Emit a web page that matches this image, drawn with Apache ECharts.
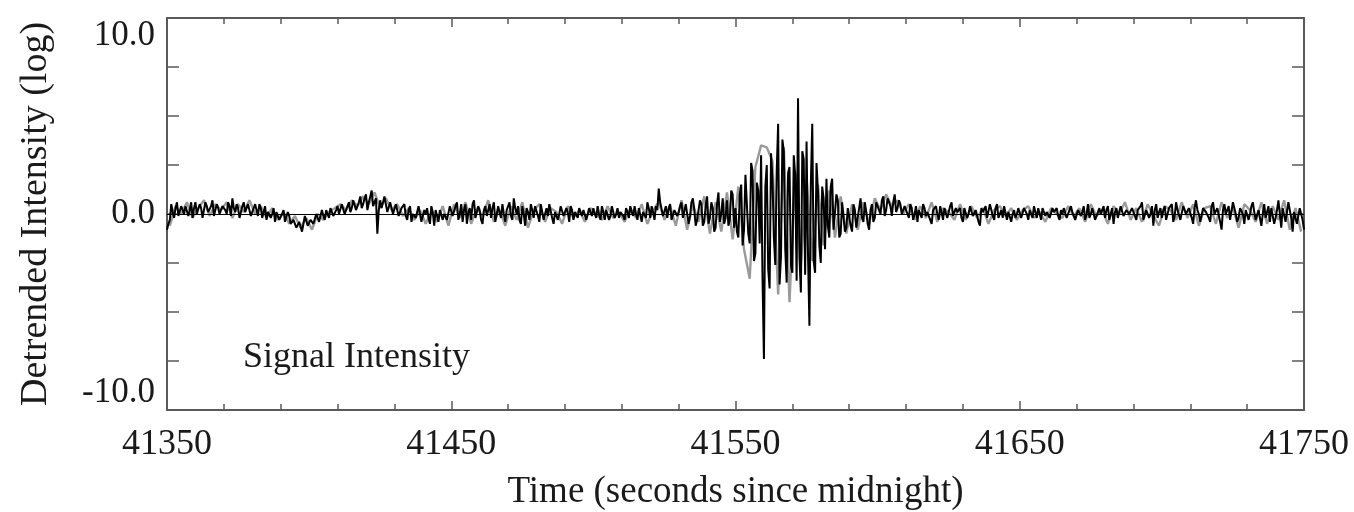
<!DOCTYPE html>
<html>
<head>
<meta charset="utf-8">
<script src="https://cdn.jsdelivr.net/npm/echarts@6/dist/echarts.min.js"></script>
<style>
html,body{margin:0;padding:0;background:#fff;}
#chart{width:1354px;height:512px;}
</style>
</head>
<body>
<div id="chart"></div>
<script>
// ---- data ----
const X_MIN = 41350, X_MAX = 41750, X_INTERVAL = 100;
const Y_MIN = -10, Y_MAX = 10, Y_INTERVAL = 2.5;
const yTickLabels = { '10': '10.0', '0': '0.0', '-10': '-10.0' };

// black trace: samples on whole seconds from 41350
const BLACK_START = 41350, BLACK_STEP = 1;
const blackValues = [
 -0.8,-0.3,0.1,0.3,-0.1,0.4,0.0,0.5,0.2,-0.2,0.6,0.1,0.3,-0.3,0.4,0.2,0.7,-0.1,0.3,0.1,
 0.5,0.0,0.4,0.8,0.1,0.3,-0.2,0.6,0.2,0.4,0.0,0.5,-0.1,0.3,0.1,-0.3,0.2,0.0,-0.4,0.1,
 -0.2,0.2,-0.5,-0.1,-0.6,-0.2,-0.8,-0.3,-0.5,0.0,-0.7,-0.2,-0.4,0.1,-0.3,-0.1,0.2,-0.2,0.3,0.0,
 0.4,0.1,0.5,0.2,0.6,0.3,0.8,0.4,0.9,0.5,1.0,0.6,1.2,0.3,-1.0,0.7,0.4,0.8,0.2,0.5,
 0.1,0.4,-0.2,0.3,-0.1,0.2,-0.4,0.1,-0.3,0.3,-0.5,0.0,-0.2,0.4,-0.6,-0.1,0.2,-0.3,0.1,-0.2,
 0.3,-0.2,0.6,0.0,-0.4,0.5,0.1,-0.3,0.7,-0.1,0.2,-0.5,0.4,0.0,-0.2,0.6,-0.3,0.1,0.5,-0.4,
 0.2,-0.1,0.8,0.0,-0.3,0.4,-0.6,0.1,0.5,-0.2,0.3,-0.4,0.6,0.0,-0.1,0.4,-0.5,0.2,0.0,0.3,
 -0.2,0.1,0.4,-0.3,0.0,0.3,-0.1,0.2,-0.4,0.1,0.3,-0.2,0.0,0.4,-0.3,0.2,-0.1,0.3,0.0,-0.2,
 0.2,-0.3,0.1,0.4,-0.1,0.0,0.3,-0.4,0.2,0.6,-0.2,0.1,0.4,1.3,0.7,0.0,-0.2,0.5,-0.4,0.3,
 0.1,0.6,-0.3,0.4,-0.1,0.8,-0.6,0.2,0.5,-0.4,0.9,-0.2,0.3,-0.7,1.1,0.0,-0.5,0.7,-0.3,1.0,
 0.3,-1.2,1.5,-0.8,1.9,-1.5,2.2,-2.0,1.2,3.0,-7.4,2.5,-3.8,1.8,-2.6,4.6,-2.2,3.2,-3.5,2.4,
 -3.0,2.0,5.9,-4.0,2.8,3.7,-5.7,4.6,-3.0,1.2,-2.5,0.8,1.8,-1.2,1.8,-0.9,0.7,-1.0,0.5,-0.7,
 0.4,-0.9,0.2,-0.6,0.8,-0.4,0.1,-0.8,0.5,-0.2,0.7,0.0,0.9,0.2,0.6,-0.1,1.0,0.3,0.5,0.1,
 0.4,-0.2,0.3,0.0,-0.4,0.2,0.5,-0.1,0.1,-0.5,0.3,0.0,0.4,-0.3,0.2,-0.1,0.6,-0.2,0.1,0.3,
 -0.4,0.2,0.0,0.5,-0.2,0.3,-0.6,0.1,0.4,-0.1,0.2,-0.3,0.5,0.0,-0.2,0.3,0.1,-0.4,0.2,0.0,
 0.3,-0.1,0.2,-0.3,0.1,0.4,-0.2,0.0,0.3,-0.1,0.2,-0.2,0.1,0.3,-0.3,0.0,0.2,-0.1,0.4,0.0,
 -0.2,0.3,0.1,-0.3,0.5,0.0,0.2,-0.4,0.3,0.1,-0.2,0.4,0.0,-0.5,0.3,0.1,0.5,-0.2,0.2,-0.1,
 0.4,-0.3,0.1,0.6,-0.2,0.3,0.0,-0.6,0.5,0.1,-0.2,0.4,0.0,0.3,-0.4,0.6,0.1,-0.2,0.5,-0.1,
 0.3,-0.5,0.7,0.0,-0.3,0.4,0.2,-0.4,0.6,-0.1,0.3,-0.8,0.5,0.1,-0.3,0.6,0.0,-0.2,0.4,-0.5,
 0.3,0.0,0.6,-0.3,0.2,-0.6,0.5,0.1,-0.4,0.4,-0.2,0.7,-0.7,0.3,-0.4,0.5,-0.9,0.2,-0.6,0.4,
 -0.8
];
// black trace: samples on the half seconds from 41350.5
const BLACK_MID_START = 41350.5, BLACK_MID_STEP = 1;
const blackMidValues = [
 -0.5,0.5,-0.2,0.6,0.0,0.2,0.4,-0.1,0.6,0.3,0.0,0.5,-0.2,0.6,0.1,0.4,-0.1,0.5,0.0,0.4,
 0.2,0.6,-0.1,0.3,0.5,-0.2,0.4,0.1,0.5,-0.1,0.3,0.2,0.5,-0.2,0.4,0.1,-0.2,0.3,0.1,-0.3,
 0.0,-0.4,0.1,-0.5,-0.3,-0.7,-0.4,-0.9,-0.1,-0.6,-0.3,-0.5,0.0,-0.4,0.2,-0.3,0.0,0.3,-0.1,0.2,
 0.0,0.5,0.0,0.4,0.1,0.7,0.2,0.6,0.3,0.8,0.2,0.9,0.4,0.8,0.2,0.3,0.9,0.1,0.6,0.0,
 0.5,-0.1,0.3,0.5,-0.3,0.4,0.0,-0.2,0.4,-0.4,0.2,0.3,-0.5,0.1,0.2,-0.4,0.3,0.0,-0.3,0.4,
 -0.1,0.4,-0.3,0.5,0.2,-0.5,0.3,0.5,-0.2,0.4,-0.3,0.2,-0.1,0.5,0.3,-0.4,0.4,-0.2,0.0,0.2,
 0.6,-0.3,0.3,0.4,-0.5,0.0,0.3,-0.3,0.2,0.4,-0.1,0.5,-0.3,0.3,0.5,-0.2,0.1,-0.3,0.4,-0.1,
 0.3,-0.4,0.2,0.1,-0.2,0.4,0.2,-0.3,0.3,-0.1,0.0,0.4,-0.3,0.1,0.2,-0.3,0.4,-0.2,0.3,0.1,
 -0.1,0.3,-0.2,0.1,0.4,-0.3,0.2,0.1,-0.2,0.3,0.4,-0.3,0.2,0.6,-0.1,0.4,0.3,-0.3,0.2,-0.1,
 0.4,-0.2,0.5,-0.5,0.6,0.2,-0.3,0.7,-0.6,0.4,-0.5,0.6,-0.9,0.5,-0.4,0.8,-0.2,-0.6,1.2,-0.7,
 -0.9,1.0,-1.6,2.0,-1.0,2.6,-2.4,1.6,-1.5,-3.2,1.4,-2.8,3.1,-1.2,2.2,-3.6,3.8,-1.8,2.1,-2.6,
 3.0,-3.4,-2.2,3.2,-3.1,-2.0,1.5,-2.4,2.6,-1.6,1.4,-1.8,-0.6,1.4,-0.8,1.0,-1.2,0.6,-0.9,0.3,
 -0.6,0.5,-0.7,0.3,-0.2,0.6,-0.5,0.2,-0.4,0.6,0.2,0.7,-0.1,0.8,0.4,0.6,0.1,0.7,0.0,0.4,
 0.0,0.5,-0.3,0.4,0.2,-0.2,0.3,0.1,-0.3,0.2,0.4,-0.3,0.1,0.3,-0.2,0.4,-0.1,0.3,0.0,-0.2,
 0.3,-0.2,0.4,-0.1,0.2,-0.4,0.3,0.0,-0.2,0.5,-0.1,0.3,-0.2,0.2,0.4,-0.3,0.2,0.0,-0.2,0.3,
 -0.2,0.3,0.0,0.2,-0.2,0.1,0.3,-0.3,0.2,0.1,-0.2,0.3,0.0,-0.1,0.2,0.3,-0.2,0.2,0.1,-0.3,
 0.2,-0.1,0.4,0.0,-0.2,0.3,-0.3,0.1,0.0,0.4,0.2,-0.3,0.3,0.1,-0.2,0.4,-0.1,0.2,0.0,0.3,
 -0.1,0.2,0.4,-0.3,0.2,-0.2,0.4,0.2,-0.2,0.3,0.2,-0.3,0.3,0.5,-0.1,0.2,-0.3,0.4,0.0,0.3,
 -0.2,0.3,0.2,-0.4,0.3,0.1,-0.2,0.4,0.0,0.3,-0.4,0.2,0.0,0.4,-0.2,0.3,-0.4,0.3,0.0,0.2,
 -0.3,0.4,0.1,-0.4,0.3,0.0,-0.2,0.4,0.3,-0.5,0.2,0.0,0.3,-0.4,0.6,-0.2,0.1,-0.5,0.3,-0.3
];

// grey trace: one sample every two seconds from 41351
const GRAY_START = 41351, GRAY_STEP = 2;
const grayValues = [
 -0.6,0.4,0.0,0.6,-0.2,0.3,0.7,-0.1,0.5,0.2,0.6,-0.2,0.5,0.1,0.7,0.0,0.4,-0.2,0.3,-0.3,
 0.1,-0.5,-0.1,-0.7,-0.2,-0.8,0.0,-0.3,0.1,0.3,0.5,0.2,0.7,0.4,0.9,0.5,1.1,0.3,0.8,0.2,
 0.5,-0.1,0.3,-0.3,0.2,-0.5,0.1,-0.4,0.4,-0.6,0.5,-0.2,0.6,-0.5,0.3,-0.1,0.7,-0.4,0.2,-0.6,
 0.4,-0.3,0.6,-0.7,0.2,0.5,-0.4,0.3,0.1,-0.5,0.4,-0.2,0.2,-0.4,0.3,0.0,-0.3,0.4,-0.2,0.1,
 -0.4,0.3,-0.2,0.5,-0.5,0.2,0.6,-0.3,0.4,-0.6,0.7,-0.8,0.5,-0.4,0.9,-1.0,0.6,-0.9,1.1,-1.3,
 1.4,-1.8,-3.3,2.4,3.5,3.4,2.7,-4.1,3.4,-4.5,2.2,-2.6,1.8,-2.4,1.5,-1.6,1.2,-1.2,0.9,-1.0,
 0.5,-0.8,0.6,-0.5,0.8,0.2,1.0,0.4,0.7,0.0,0.5,-0.3,0.4,-0.2,0.6,-0.4,0.3,0.1,-0.3,0.5,
 -0.3,0.4,-0.2,0.3,-0.5,0.2,0.4,-0.1,0.3,-0.3,0.2,0.4,-0.2,0.1,-0.4,0.3,0.0,-0.2,0.4,-0.1,
 0.3,-0.4,0.5,-0.1,0.2,-0.5,0.4,0.0,0.6,-0.3,0.3,-0.4,0.5,-0.1,-0.6,0.4,0.2,-0.3,0.6,-0.2,
 0.5,-0.6,0.3,0.4,-0.5,0.6,-0.2,0.3,-0.7,0.5,0.2,-0.4,0.6,-0.5,0.4,-0.3,0.7,-0.8,0.3,-0.9
];

const X_TITLE = 'Time (seconds since midnight)';
const Y_TITLE = 'Detrended Intensity (log)';
const PANEL_LABEL = 'Signal Intensity';

// ---- build ----
const blackData = [];
blackValues.forEach((v, i) => {
  blackData.push([BLACK_START + i * BLACK_STEP, v]);
  if (i < blackMidValues.length) blackData.push([BLACK_MID_START + i * BLACK_MID_STEP, blackMidValues[i]]);
});
const grayData = grayValues.map((v, i) => [GRAY_START + i * GRAY_STEP, v]);

const FONT = '"Liberation Serif", "DejaVu Serif", serif';
const AXIS_COLOR = '#5a5a5a';
const TEXT_COLOR = '#1a1a1a';

const chart = echarts.init(document.getElementById('chart'), null, { renderer: 'canvas' });

const baseX = {
  type: 'value', min: X_MIN, max: X_MAX, interval: X_INTERVAL,
  axisLine: { show: true, onZero: false, lineStyle: { color: AXIS_COLOR, width: 2 } },
  axisTick: { show: true, inside: true, length: 9, lineStyle: { color: AXIS_COLOR, width: 1.5 } },
  minorTick: { show: true, splitNumber: 5, length: 6, lineStyle: { color: AXIS_COLOR, width: 1.5 } },
  splitLine: { show: false }, minorSplitLine: { show: false }
};
const baseY = {
  type: 'value', min: Y_MIN, max: Y_MAX, interval: Y_INTERVAL,
  axisLine: { show: true, onZero: false, lineStyle: { color: AXIS_COLOR, width: 2 } },
  axisTick: { show: true, inside: true, length: 12, lineStyle: { color: AXIS_COLOR, width: 1.5 } },
  splitLine: { show: false }
};

chart.setOption({
  animation: false,
  backgroundColor: '#ffffff',
  grid: { left: 167, right: 50, top: 18, bottom: 102, containLabel: false, outerBoundsMode: 'none' },
  xAxis: [
    Object.assign({}, baseX, {
      position: 'bottom',
      name: X_TITLE, nameLocation: 'middle', nameGap: 64,
      nameTextStyle: { fontFamily: FONT, fontSize: 37, color: TEXT_COLOR },
      axisLabel: { show: true, margin: 17, fontFamily: FONT, fontSize: 36, color: TEXT_COLOR,
        formatter: v => String(v) }
    }),
    Object.assign({}, baseX, { position: 'top', axisLabel: { show: false } })
  ],
  yAxis: [
    Object.assign({}, baseY, {
      position: 'left',
      name: Y_TITLE, nameLocation: 'middle', nameGap: 112,
      nameTextStyle: { fontFamily: FONT, fontSize: 38, color: TEXT_COLOR },
      axisLabel: {
        show: true, margin: 12, fontFamily: FONT, fontSize: 35, color: TEXT_COLOR,
        verticalAlignMaxLabel: 'top', verticalAlignMinLabel: 'bottom',
        formatter: v => (yTickLabels[String(v)] !== undefined ? yTickLabels[String(v)] : '')
      }
    }),
    Object.assign({}, baseY, { position: 'right', axisLabel: { show: false } })
  ],
  series: [
    {
      type: 'line', data: grayData, xAxisIndex: 0, yAxisIndex: 0,
      showSymbol: false, symbol: 'none', z: 2,
      lineStyle: { color: '#9a9a9a', width: 2.4 },
      markLine: {
        silent: true, symbol: 'none', label: { show: false },
        lineStyle: { color: '#000', width: 1, type: 'solid' },
        data: [{ yAxis: 0 }]
      }
    },
    {
      type: 'line', data: blackData, xAxisIndex: 0, yAxisIndex: 0,
      showSymbol: false, symbol: 'none', z: 3,
      lineStyle: { color: '#000000', width: 2.0 }
    }
  ],
  graphic: [
    {
      type: 'text', left: 243, top: 340, silent: true,
      style: { text: PANEL_LABEL, font: '36px "Liberation Serif", serif', fill: TEXT_COLOR }
    }
  ]
});
</script>
</body>
</html>
